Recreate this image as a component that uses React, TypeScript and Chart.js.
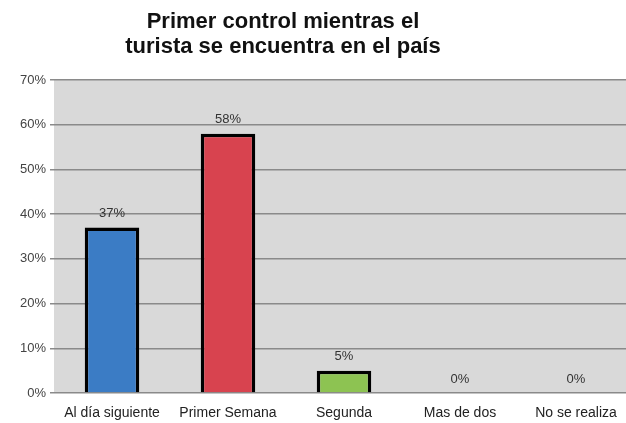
import { useEffect, useRef } from 'react';
import { Chart, registerables } from 'chart.js';

Chart.register(...registerables);

const titleLines = ['Primer control mientras el', 'turista se encuentra en el país'];
const categories = ['Al día siguiente', 'Primer Semana', 'Segunda', 'Mas de dos', 'No se realiza'];
const values = [37, 58, 5, 0, 0];
const barColors = ['#3b7cc5', '#d8434f', '#8dc352', '#7e62a1', '#4aaac4'];
const yMin = 0;
const yMax = 70;
const yStep = 10;

const FONT = '"Liberation Sans", Arial, Helvetica, sans-serif';

const plotBg = {
  id: 'plotBg',
  beforeDraw(chart: any) {
    const { ctx, chartArea: a } = chart;
    ctx.save();
    ctx.fillStyle = '#d9d9d9';
    ctx.fillRect(a.left, a.top, a.right - a.left, a.bottom - a.top);
    ctx.restore();
  },
};

const valueLabels = {
  id: 'valueLabels',
  afterDatasetsDraw(chart: any) {
    const { ctx } = chart;
    const meta = chart.getDatasetMeta(0);
    ctx.save();
    ctx.font = `13px ${FONT}`;
    ctx.fillStyle = '#333';
    ctx.textAlign = 'center';
    ctx.textBaseline = 'middle';
    meta.data.forEach((bar: any, i: number) => {
      ctx.fillText(values[i] + '%', bar.x, bar.y - 14);
    });
    ctx.restore();
  },
};

export default function App() {
  const ref = useRef<HTMLCanvasElement>(null);

  useEffect(() => {
    if (!ref.current) return;
    const chart = new Chart(ref.current, {
      type: 'bar',
      data: {
        labels: categories,
        datasets: [
          {
            data: values,
            backgroundColor: barColors,
            borderColor: '#000',
            borderWidth: 3.5,
            categoryPercentage: 1,
            barPercentage: 0.47,
          },
        ],
      },
      options: {
        animation: false,
        responsive: true,
        maintainAspectRatio: false,
        layout: { padding: { left: 0, right: 6, top: 80, bottom: 0 } },
        plugins: {
          legend: { display: false },
          title: { display: false },
          tooltip: { enabled: false },
        },
        scales: {
          x: {
            grid: { display: false },
            border: { display: false },
            ticks: {
              font: { size: 14, family: FONT },
              color: '#222',
              padding: 4,
              maxRotation: 0,
              autoSkip: false,
            },
            afterFit(s: any) {
              s.height = 30;
            },
          },
          y: {
            min: yMin,
            max: yMax,
            ticks: {
              stepSize: yStep,
              callback: (v: any) => v + '%',
              font: { size: 13, family: FONT },
              color: '#444',
              padding: 4,
            },
            grid: { color: '#8a8a8a', lineWidth: 1.5, tickLength: 4 },
            border: { display: false },
            afterFit(s: any) {
              s.width = 54;
            },
          },
        },
      },
      plugins: [plotBg, valueLabels],
    });
    return () => chart.destroy();
  }, []);

  return (
    <div style={{ position: 'absolute', left: 0, top: 0, width: 626, height: 423, overflow: 'hidden', background: '#fff' }}>
      <div
        style={{
          position: 'absolute',
          left: 0,
          top: 8,
          width: 566,
          textAlign: 'center',
          fontFamily: FONT,
          fontWeight: 'bold',
          fontSize: 22,
          lineHeight: '25px',
          color: '#111',
          zIndex: 1,
        }}
      >
        {titleLines[0]}
        <br />
        {titleLines[1]}
      </div>
      <div style={{ position: 'absolute', left: 0, top: 0, width: 640, height: 423 }}>
        <canvas ref={ref} />
      </div>
    </div>
  );
}
